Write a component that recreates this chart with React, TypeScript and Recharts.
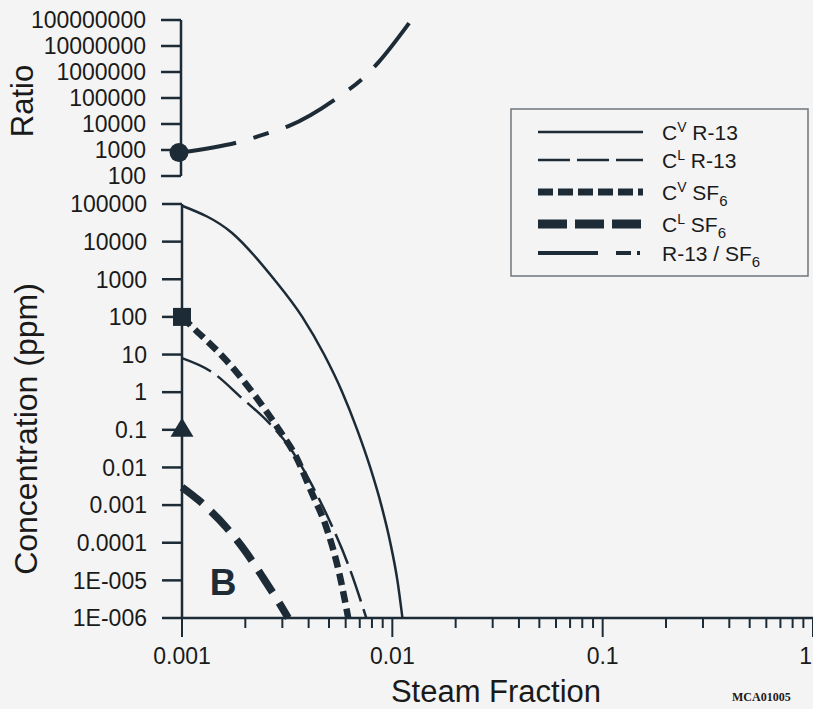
import { ComposedChart, Line, Scatter, XAxis, YAxis } from 'recharts'

const ink = '#1d2b36'
const font = '"Liberation Sans", Arial, Helvetica, sans-serif'

// x axis (steam fraction, log)
const xMajorTicks = [0.001, 0.01, 0.1, 1]
const xMajorLabels = ['0.001', '0.01', '0.1', '1']
const xMinorTicks = [
  0.002, 0.003, 0.004, 0.005, 0.006, 0.007, 0.008, 0.009,
  0.02, 0.03, 0.04, 0.05, 0.06, 0.07, 0.08, 0.09,
  0.2, 0.3, 0.4, 0.5, 0.6, 0.7, 0.8, 0.9,
]

// y axes
const concTicks = [1e-6, 1e-5, 1e-4, 0.001, 0.01, 0.1, 1, 10, 100, 1000, 10000, 100000]
const concLabels = ['1E-006', '1E-005', '0.0001', '0.001', '0.01', '0.1', '1', '10', '100', '1000', '10000', '100000']
const ratioTicks = [100, 1000, 1e4, 1e5, 1e6, 1e7, 1e8]
const ratioLabels = ['100', '1000', '10000', '100000', '1000000', '10000000', '100000000']

// series: [steam fraction, value]
const cvR13: [number, number][] = [
  [0.001, 90000], [0.00173, 17000], [0.00274, 1000], [0.00373, 100], [0.00474, 10],
  [0.00578, 1], [0.00681, 0.1], [0.00785, 0.01], [0.00886, 0.001], [0.00978, 1e-4],
  [0.01057, 1e-5], [0.01117, 1e-6],
]
const clR13: [number, number][] = [
  [0.001, 8], [0.00139, 3.4], [0.00193, 0.69], [0.0026, 0.15], [0.00324, 0.035],
  [0.00403, 0.0046], [0.00501, 0.0004], [0.00624, 2.2e-5], [0.00752, 1e-6],
]
const cvSF6: [number, number][] = [
  [0.001, 100], [0.00112, 54], [0.00162, 7.1], [0.00225, 0.74], [0.0029, 0.098],
  [0.00349, 0.019], [0.00416, 0.002], [0.00485, 0.00026], [0.0056, 1.5e-5], [0.00617, 1e-6],
]
const clSF6: [number, number][] = [
  [0.001, 0.003], [0.0012, 0.00135], [0.00162, 0.00026], [0.00202, 5.5e-5],
  [0.0024, 1.3e-5], [0.0029, 2.5e-6], [0.0032, 1e-6],
]
const ratio: [number, number][] = [
  [0.001, 800], [0.00187, 2000], [0.00268, 4900], [0.00324, 8300], [0.0056, 110000],
  [0.00752, 710000], [0.00867, 2400000], [0.0121, 76000000],
]

// measured points at 0.001
const ratioPoint: [number, number][] = [[0.001, 800]]
const squarePoint: [number, number][] = [[0.001, 100]]
const trianglePoint: [number, number][] = [[0.001, 0.1]]

const toRows = (s: [number, number][]) => s.map(([x, y]) => ({ x, y }))

const xTicks = [...xMajorTicks, ...xMinorTicks]

const XTick = (props: any) => {
  const { x, y, payload } = props
  const i = xMajorTicks.indexOf(payload.value)
  const major = i >= 0
  const last = i === xMajorTicks.length - 1
  return (
    <g>
      <line x1={x} x2={x} y1={y} y2={y + (major ? 19 : 10)} stroke={ink} strokeWidth={2} />
      {major && (
        <text x={last ? x - 1 : x} y={y + 46} textAnchor={last ? 'end' : 'middle'} fontSize={23} fontFamily={font} fill="#1a1a1a">
          {xMajorLabels[i]}
        </text>
      )}
    </g>
  )
}

const makeYTick = (ticks: number[], labels: string[]) => (props: any) => {
  const { x, y, payload } = props
  const i = ticks.indexOf(payload.value)
  return (
    <g>
      <line x1={x - 20} x2={x} y1={y} y2={y} stroke={ink} strokeWidth={2.5} />
      <text x={x - 35} y={y} dy="0.36em" textAnchor="end" fontSize={23} fontFamily={font} fill="#1a1a1a">
        {labels[i]}
      </text>
    </g>
  )
}

const legendRows = [
  { main: 'C', sup: 'V', rest: ' R-13', sub: '', dash: undefined, w: 2.5 },
  { main: 'C', sup: 'L', rest: ' R-13', sub: '', dash: '32 7', w: 2.5 },
  { main: 'C', sup: 'V', rest: ' SF', sub: '6', dash: '15 5', w: 7 },
  { main: 'C', sup: 'L', rest: ' SF', sub: '6', dash: '29 8', w: 9 },
  { main: '', sup: '', rest: 'R-13 / SF', sub: '6', dash: '60 18 15 6 3 40', w: 4 },
]
const legendY = [132, 160, 192, 224, 253]

export default function App() {
  return (
    <div
      style={{
        position: 'absolute', left: 0, top: 0, width: 813, height: 709,
        background: '#f4f4f4', overflow: 'hidden', fontFamily: font,
      }}
    >
      {/* concentration panel */}
      <div style={{ position: 'absolute', left: 0, top: 0 }}>
        <ComposedChart width={813} height={709} margin={{ top: 204, right: 0, bottom: 0, left: 0 }}>
          <XAxis
            dataKey="x" type="number" scale="log" domain={[0.001, 1]}
            ticks={xTicks} interval={0} height={91}
            tickSize={0} tickMargin={0} tick={XTick}
            axisLine={{ stroke: ink, strokeWidth: 2.5 }}
          />
          <YAxis
            dataKey="y" type="number" scale="log" domain={[1e-6, 1e5]}
            ticks={concTicks} interval={0} width={182}
            tickSize={0} tickMargin={0} tick={makeYTick(concTicks, concLabels)}
            axisLine={{ stroke: ink, strokeWidth: 2.5 }}
          />
          <Line data={toRows(cvR13)} dataKey="y" type="monotone" dot={false} stroke={ink}
            strokeWidth={2.5} isAnimationActive={false} />
          <Line data={toRows(clR13)} dataKey="y" type="monotone" dot={false} stroke={ink}
            strokeWidth={2.5} strokeDasharray="32 8" isAnimationActive={false} />
          <Line data={toRows(cvSF6)} dataKey="y" type="monotone" dot={false} stroke={ink}
            strokeWidth={6.5} strokeDasharray="12 6" isAnimationActive={false} />
          <Line data={toRows(clSF6)} dataKey="y" type="monotone" dot={false} stroke={ink}
            strokeWidth={7.5} strokeDasharray="26 12" isAnimationActive={false} />
          <Scatter data={toRows(squarePoint)} isAnimationActive={false}
            shape={(p: any) => <rect x={p.cx - 9} y={p.cy - 9} width={18} height={18} fill={ink} />} />
          <Scatter data={toRows(trianglePoint)} isAnimationActive={false}
            shape={(p: any) => (
              <polygon points={`${p.cx},${p.cy - 12} ${p.cx - 11.5},${p.cy + 7} ${p.cx + 11.5},${p.cy + 7}`} fill={ink} />
            )} />
        </ComposedChart>
      </div>

      {/* ratio panel */}
      <div style={{ position: 'absolute', left: 0, top: 0 }}>
        <ComposedChart width={813} height={200} margin={{ top: 20, right: 0, bottom: 24, left: 0 }}>
          <XAxis dataKey="x" type="number" scale="log" domain={[0.001, 1]} hide />
          <YAxis
            dataKey="y" type="number" scale="log" domain={[100, 1e8]}
            ticks={ratioTicks} interval={0} width={181}
            tickSize={0} tickMargin={0} tick={makeYTick(ratioTicks, ratioLabels)}
            axisLine={{ stroke: ink, strokeWidth: 2.5 }}
          />
          <Line data={toRows(ratio)} dataKey="y" type="monotone" dot={false} stroke={ink}
            strokeWidth={4} strokeDasharray="56 18 16 18" isAnimationActive={false} />
          <Scatter data={toRows(ratioPoint)} isAnimationActive={false}
            shape={(p: any) => <circle cx={p.cx - 2} cy={p.cy} r={9.5} fill={ink} />} />
        </ComposedChart>
      </div>

      {/* titles, legend, notes */}
      <svg width={813} height={709} style={{ position: 'absolute', left: 0, top: 0, pointerEvents: 'none' }}>
        <text x={33} y={101} transform="rotate(-90 33 101)" textAnchor="middle" fontSize={31} fill="#1a1a1a" fontFamily={font}>
          Ratio
        </text>
        <text x={37} y={429} transform="rotate(-90 37 429)" textAnchor="middle" fontSize={32} fill="#1a1a1a" fontFamily={font}>
          Concentration (ppm)
        </text>
        <text x={496} y={702} textAnchor="middle" fontSize={31} fill="#1a1a1a" fontFamily={font}>
          Steam Fraction
        </text>
        <text x={223} y={595} textAnchor="middle" fontSize={37} fontWeight="bold" fill={ink} fontFamily={font}>
          B
        </text>
        <text x={732} y={701} fontSize={12} fontWeight="bold" fill="#1a1a1a" fontFamily='"Liberation Serif", "Times New Roman", serif'>
          MCA01005
        </text>

        <rect x={511} y={109} width={297} height={167} fill="none" stroke="#6e757b" strokeWidth={1.5} />
        {legendRows.map((r, i) => {
          const y = legendY[i]
          return (
            <g key={i}>
              <line x1={538} x2={643} y1={y} y2={y} stroke={ink} strokeWidth={r.w} strokeDasharray={r.dash} />
              <text x={662} y={y + 8} fontSize={21} fill="#1a1a1a" fontFamily={font}>
                {r.main}
                {r.sup && <tspan fontSize={14} dy={-8}>{r.sup}</tspan>}
                <tspan dy={r.sup ? 8 : 0}>{r.rest}</tspan>
                {r.sub && <tspan fontSize={15} dy={6}>{r.sub}</tspan>}
              </text>
            </g>
          )
        })}
      </svg>
    </div>
  )
}
